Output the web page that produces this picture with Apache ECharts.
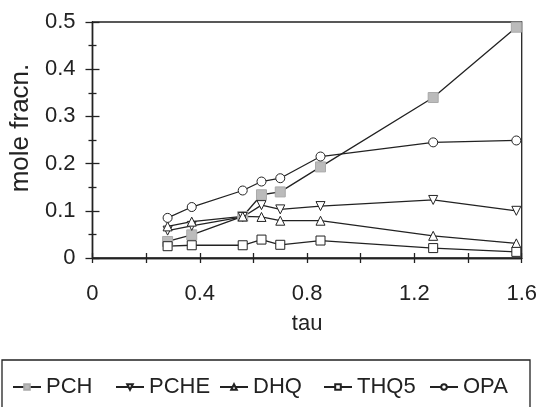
<!DOCTYPE html>
<html>
<head>
<meta charset="utf-8">
<script src="https://cdn.jsdelivr.net/npm/echarts@6/dist/echarts.min.js"></script>
<style>
  html, body { margin: 0; padding: 0; background: #fff; }
  #chart { width: 540px; height: 407px; }
</style>
</head>
<body>
<div id="chart"></div>
<script>
const tau = [0.28, 0.37, 0.56, 0.63, 0.70, 0.85, 1.27, 1.58]
const pch = [0.035, 0.049, 0.088, 0.134, 0.140, 0.193, 0.340, 0.489]
const pche = [0.058, 0.068, 0.087, 0.112, 0.103, 0.110, 0.123, 0.100]
const dhq = [0.067, 0.077, 0.088, 0.087, 0.079, 0.079, 0.047, 0.031]
const thq5 = [0.025, 0.027, 0.027, 0.039, 0.028, 0.037, 0.021, 0.013]
const opa = [0.085, 0.108, 0.143, 0.162, 0.169, 0.215, 0.245, 0.249]
const names = ['PCH', 'PCHE', 'DHQ', 'THQ5', 'OPA']
const xTickLabels = ['0', '0.4', '0.8', '1.2', '1.6']

const chart = echarts.init(document.getElementById('chart'))
const font = 'Liberation Sans, Arial, sans-serif'
const ink = '#222'

const pairs = arr => tau.map((t, i) => [t, arr[i]])

const mkSeries = (name, data, symbol, fill, extra) => Object.assign({
  name: name,
  type: 'line',
  data: pairs(data),
  symbol: symbol,
  symbolSize: 9,
  lineStyle: { color: ink, width: 1.3 },
  itemStyle: { color: fill, borderColor: symbol === 'rect' && fill !== '#fff' ? '#aaa' : ink, borderWidth: 1 },
  emphasis: { disabled: true },
  z: 3
}, extra || {})

const axisCommon = {
  min: 0,
  axisLine: { show: true, lineStyle: { color: ink, width: 1.3 } },
  splitLine: { show: false }
}

// left edge of each legend entry
const legendLefts = [7, 110, 214, 318, 424]

const option = {
  animation: false,
  grid: {
    left: 89, right: 14, top: 22, bottom: 149,
    show: true, borderColor: ink, borderWidth: 1.3
  },
  graphic: [{
    type: 'rect',
    shape: { x: 2, y: 360, width: 528, height: 60 },
    style: { fill: 'none', stroke: ink, lineWidth: 1.3 }
  }],
  legend: names.map((n, i) => ({
    data: [n],
    left: legendLefts[i],
    top: 371,
    itemWidth: 28,
    itemHeight: 7,
    itemGap: 0,
    textStyle: { fontFamily: font, fontSize: 22, color: ink }
  })),
  xAxis: [
    Object.assign({}, axisCommon, {
      type: 'value', max: 1.6, interval: 0.2,
      name: 'tau', nameLocation: 'middle', nameGap: 55,
      nameTextStyle: { fontFamily: font, fontSize: 22, color: ink },
      axisTick: { show: true, length: 5, lineStyle: { color: ink, width: 1.3 } },
      axisLabel: {
        margin: 25, fontFamily: font, fontSize: 22, color: ink,
        formatter: v => {
          const s = String(Math.round(v * 10) / 10)
          return xTickLabels.indexOf(s) >= 0 ? s : ''
        }
      }
    }),
    Object.assign({}, axisCommon, {
      type: 'value', max: 1.6, interval: 0.2, position: 'bottom',
      axisTick: { show: true, inside: true, length: 5, lineStyle: { color: ink, width: 1.3 } },
      axisLabel: { show: false }
    })
  ],
  yAxis: [
    Object.assign({}, axisCommon, {
      type: 'value', max: 0.5, interval: 0.1,
      name: 'mole fracn.', nameLocation: 'middle', nameGap: 56,
      nameTextStyle: { fontFamily: font, fontSize: 26, color: ink, padding: [0, 0, 0, 24] },
      axisTick: { show: true, length: 7, lineStyle: { color: ink, width: 1.3 } },
      minorTick: { show: true, splitNumber: 2, length: 4, lineStyle: { color: ink, width: 1.3 } },
      axisLabel: { margin: 17, fontFamily: font, fontSize: 22, color: ink }
    }),
    Object.assign({}, axisCommon, {
      type: 'value', max: 0.5, interval: 0.1, position: 'left',
      axisTick: { show: true, inside: true, length: 7, lineStyle: { color: ink, width: 1.3 } },
      minorTick: { show: true, splitNumber: 2, length: 4, lineStyle: { color: ink, width: 1.3 } },
      axisLabel: { show: false }
    })
  ],
  series: [
    mkSeries('PCH', pch, 'rect', '#bbb', { symbolSize: 10 }),
    mkSeries('PCHE', pche, 'triangle', '#fff', { symbolRotate: 180 }),
    mkSeries('DHQ', dhq, 'triangle', '#fff'),
    mkSeries('THQ5', thq5, 'rect', '#fff'),
    mkSeries('OPA', opa, 'circle', '#fff')
  ]
}

chart.setOption(option)
</script>
</body>
</html>
